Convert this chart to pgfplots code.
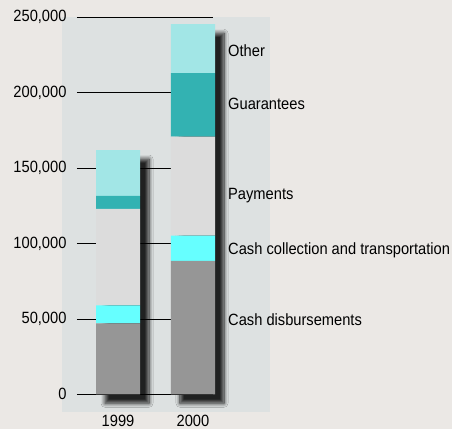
\documentclass[border=0pt]{standalone}
\usepackage{fontspec}
\setmainfont[FakeStretch=0.9]{Liberation Sans}
\usepackage{pgfplots}
\pgfplotsset{compat=1.18}
\usetikzlibrary{shadows.blur}

\definecolor{bgc}{HTML}{EBE8E5}
\definecolor{panel}{HTML}{DDE1E1}
\definecolor{disb}{HTML}{969696}
\definecolor{coll}{HTML}{66FFFF}
\definecolor{pay}{HTML}{DCDCDC}
\definecolor{guar}{HTML}{33B2B2}
\definecolor{other}{HTML}{A2E6E6}

\tikzset{lab/.style={anchor=mid west, inner sep=0pt, font=\fontsize{16.3}{18}\selectfont}}

\pgfplotsset{
  base/.style={
    at={(62pt,17pt)}, anchor=south west,
    scale only axis, width=208pt, height=394.7pt,
    xmin=-0.747, xmax=2.027, ymin=-11740, ymax=250000,
    axis line style={draw=none}, major tick length=0pt,
    scaled y ticks=false,
    tick label style={font=\fontsize{16.3}{18}\selectfont},
    /pgf/number format/assume math mode=true,
  }
}

\begin{document}
\begin{tikzpicture}
\fill[bgc] (0,0) rectangle (452pt,429pt);

% panel, shadows, grid and ticks
\begin{axis}[base,
  axis background/.style={fill=panel},
  xtick={0,1}, xticklabels={1999,2000},
  ytick={0,50000,100000,150000,200000,250000},
  yticklabels={0,{50,000},{100,000},{150,000},{200,000},{250,000}},
  yticklabel style={xshift=8pt},
  clip=false]
\addplot[ybar, bar width=0.587, draw=none, fill=none,
  blur shadow={shadow xshift=9pt, shadow yshift=-9pt, shadow blur radius=4pt,
    shadow blur steps=10, shadow opacity=85}]
  coordinates {(0,162000) (1,245400)};
\draw[black, line width=0.8pt] (axis cs:-0.547,0) -- (axis cs:1.267,0);
\draw[black, line width=0.8pt] (axis cs:-0.547,50000) -- (axis cs:1.267,50000);
\draw[black, line width=0.8pt] (axis cs:-0.547,100000) -- (axis cs:1.267,100000);
\draw[black, line width=0.8pt] (axis cs:-0.547,150000) -- (axis cs:1.267,150000);
\draw[black, line width=0.8pt] (axis cs:-0.547,200000) -- (axis cs:1.267,200000);
\draw[black, line width=0.8pt] (axis cs:-0.547,250000) -- (axis cs:1.267,250000);
\end{axis}

% stacked bars
\begin{axis}[base, ybar stacked, bar width=0.587,
  xtick=\empty, ytick=\empty, clip=false]
\addplot[fill=disb, draw=none] coordinates {(0,47000) (1,88400)};
\addplot[fill=coll, draw=none] coordinates {(0,12000) (1,16800)};
\addplot[fill=pay, draw=none] coordinates {(0,64000) (1,65600)};
\addplot[fill=guar, draw=none] coordinates {(0,8500) (1,42100)};
\addplot[fill=other, draw=none] coordinates {(0,30500) (1,32500)};
\node[lab] at (axis cs:1.467,226000) {Other};
\node[lab] at (axis cs:1.467,190500) {Guarantees};
\node[lab] at (axis cs:1.467,130800) {Payments};
\node[lab] at (axis cs:1.467,94300) {Cash collection and transportation};
\node[lab] at (axis cs:1.467,47300) {Cash disbursements};
\end{axis}

\pgfresetboundingbox
\path[use as bounding box] (0,0) rectangle (452pt,429pt);
\end{tikzpicture}
\end{document}
